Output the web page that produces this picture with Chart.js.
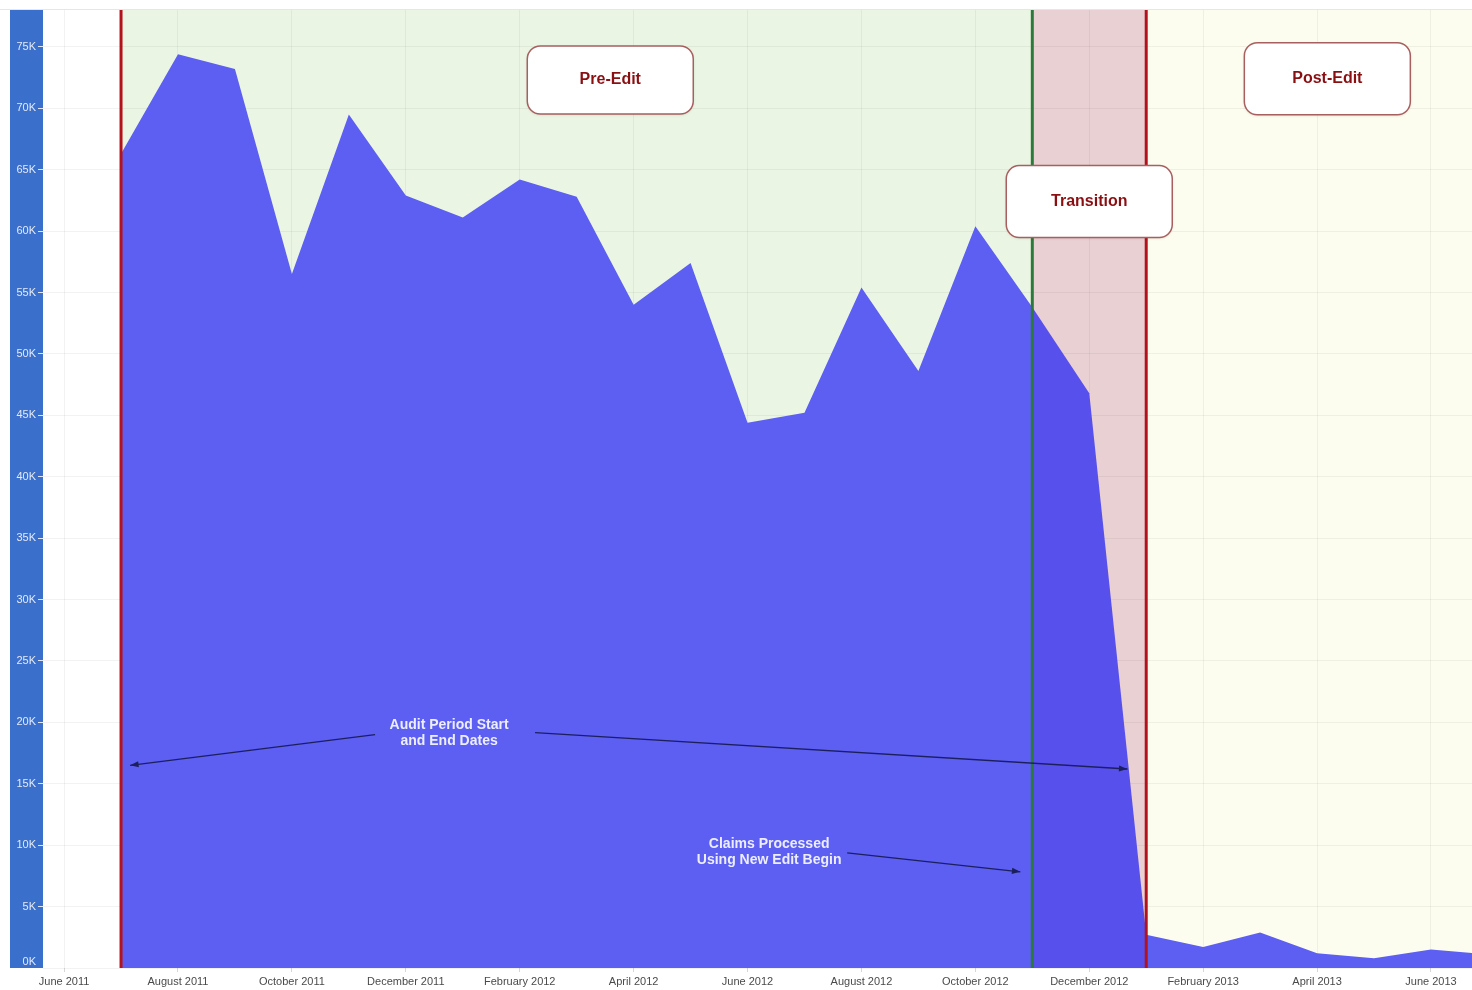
<!DOCTYPE html>
<html lang="en">
  <head>
    <meta charset="UTF-8" />
    <title>Claims Processed - Pre-Edit / Post-Edit</title>
    <style>
      body {
        margin: 0;
        background-color: #fff;
        font-family: "Liberation Sans", Arial, sans-serif;
      }
      .chart-container {
        width: 1472px;
        height: 990px;
      }
    </style>
  </head>
  <body>
    <div class="chart-container">
      <canvas id="claimsChart" width="1472" height="990"></canvas>
    </div>
    <script src="https://cdn.jsdelivr.net/npm/chart.js"></script>
    <script>
      // month index 0 = June 2011
      const monthLabels = [
        "June 2011", "July 2011", "August 2011", "September 2011", "October 2011",
        "November 2011", "December 2011", "January 2012", "February 2012", "March 2012",
        "April 2012", "May 2012", "June 2012", "July 2012", "August 2012",
        "September 2012", "October 2012", "November 2012", "December 2012", "January 2013",
        "February 2013", "March 2013", "April 2013", "May 2013", "June 2013", "July 2013",
      ];

      const claimMonths = [1, 2, 3, 4, 5, 6, 7, 8, 9, 10, 11, 12, 13, 14, 15, 16, 17, 18, 19, 20, 21, 22, 23, 24, 25];
      const claimCounts = [
        66300, 74400, 73200, 56500, 69500, 62900, 61100, 64200, 62800, 54000,
        57400, 44400, 45200, 55400, 48600, 60400, 53800, 46800, 2700, 1700,
        2900, 1200, 800, 1500, 1100,
      ];

      const yTickValues = [0, 5000, 10000, 15000, 20000, 25000, 30000, 35000, 40000, 45000, 50000, 55000, 60000, 65000, 70000, 75000];

      const auditStart = 1; // July 2011
      const editStart = 17; // November 2012
      const auditEnd = 19; // January 2013

      const periodLabels = ["Pre-Edit", "Transition", "Post-Edit"];
      const noteLines = [
        ["Audit Period Start", "and End Dates"],
        ["Claims Processed", "Using New Edit Begin"],
      ];

      const points = claimMonths.map((m, i) => ({ x: m, y: claimCounts[i] }));

      const FONT = '"Liberation Sans", Arial, sans-serif';
      const yLabel = (v) => v / 1000 + "K";

      function roundRect(ctx, x, y, w, h, r) {
        ctx.beginPath();
        ctx.moveTo(x + r, y);
        ctx.arcTo(x + w, y, x + w, y + h, r);
        ctx.arcTo(x + w, y + h, x, y + h, r);
        ctx.arcTo(x, y + h, x, y, r);
        ctx.arcTo(x, y, x + w, y, r);
        ctx.closePath();
      }

      function arrow(ctx, x1, y1, x2, y2) {
        ctx.strokeStyle = "#1c1f5e";
        ctx.fillStyle = "#1c1f5e";
        ctx.lineWidth = 1.4;
        ctx.beginPath();
        ctx.moveTo(x1, y1);
        ctx.lineTo(x2, y2);
        ctx.stroke();
        const a = Math.atan2(y2 - y1, x2 - x1);
        const s = 9;
        ctx.beginPath();
        ctx.moveTo(x2, y2);
        ctx.lineTo(x2 - s * Math.cos(a - 0.35), y2 - s * Math.sin(a - 0.35));
        ctx.lineTo(x2 - s * Math.cos(a + 0.35), y2 - s * Math.sin(a + 0.35));
        ctx.closePath();
        ctx.fill();
      }

      const backdropPlugin = {
        id: "backdrop",
        beforeDraw(chart) {
          const { ctx, chartArea: a, scales } = chart;
          const xs = scales.x;
          ctx.save();
          ctx.fillStyle = "#fff";
          ctx.fillRect(0, 0, chart.width, chart.height);
          // thin top rule
          ctx.strokeStyle = "#e6e6e6";
          ctx.lineWidth = 1;
          ctx.beginPath();
          ctx.moveTo(0, a.top - 0.5);
          ctx.lineTo(chart.width, a.top - 0.5);
          ctx.stroke();
          // y axis panel
          ctx.fillStyle = "#3a6fcb";
          ctx.fillRect(scales.y.left, a.top, scales.y.width, a.bottom - a.top);
          // period bands
          const x1 = xs.getPixelForValue(auditStart);
          const x2 = xs.getPixelForValue(editStart);
          const x3 = xs.getPixelForValue(auditEnd);
          ctx.fillStyle = "#eaf6e3";
          ctx.fillRect(x1, a.top, x2 - x1, a.bottom - a.top);
          ctx.fillStyle = "#e9d1d3";
          ctx.fillRect(x2, a.top, x3 - x2, a.bottom - a.top);
          ctx.fillStyle = "#fdfdef";
          ctx.fillRect(x3, a.top, a.right - x3, a.bottom - a.top);
          ctx.restore();
        },
        afterDraw(chart) {
          // bottom "0K" label sits just above the axis, inside the panel
          const { ctx, chartArea: a } = chart;
          ctx.save();
          ctx.fillStyle = "#e3eaf8";
          ctx.font = "11px " + FONT;
          ctx.textAlign = "right";
          ctx.textBaseline = "bottom";
          ctx.fillText(yLabel(yTickValues[0]), a.left - 7, a.bottom - 1);
          ctx.restore();
        },
      };

      const notesPlugin = {
        id: "notes",
        afterDatasetsDraw(chart) {
          const { ctx, chartArea: a, scales } = chart;
          const px = (m) => scales.x.getPixelForValue(m);
          const py = (v) => scales.y.getPixelForValue(v);
          ctx.save();

          // period boundary lines
          const vline = (m, color) => {
            ctx.strokeStyle = color;
            ctx.lineWidth = 3;
            ctx.beginPath();
            ctx.moveTo(px(m), a.top);
            ctx.lineTo(px(m), a.bottom);
            ctx.stroke();
          };
          vline(auditStart, "#b3121c");
          vline(auditEnd, "#b3121c");
          vline(editStart, "#2b7a3b");

          // period boxes
          const boxes = [
            { cx: 9.59, cy: 72300, h: 68 },
            { cx: 18.0, cy: 62400, h: 72 },
            { cx: 22.18, cy: 72400, h: 72 },
          ];
          boxes.forEach((b, i) => {
            const w = 166;
            const x = px(b.cx) - w / 2;
            const y = py(b.cy) - b.h / 2;
            ctx.shadowColor = "rgba(0,0,0,0.12)";
            ctx.shadowBlur = 3;
            ctx.shadowOffsetY = 1;
            roundRect(ctx, x, y, w, b.h, 13);
            ctx.fillStyle = "#fff";
            ctx.fill();
            ctx.shadowColor = "transparent";
            ctx.strokeStyle = "#a85f5f";
            ctx.lineWidth = 1.5;
            ctx.stroke();
            ctx.fillStyle = "#8a0f12";
            ctx.font = "bold 16px " + FONT;
            ctx.textAlign = "center";
            ctx.textBaseline = "middle";
            ctx.fillText(periodLabels[i], px(b.cx), py(b.cy));
          });

          // notes
          ctx.fillStyle = "#eceeff";
          ctx.font = "bold 14px " + FONT;
          ctx.textAlign = "center";
          ctx.textBaseline = "middle";
          const notePos = [
            { cx: 6.76, cy: 19100 },
            { cx: 12.38, cy: 9460 },
          ];
          notePos.forEach((n, i) => {
            ctx.fillText(noteLines[i][0], px(n.cx), py(n.cy) - 8);
            ctx.fillText(noteLines[i][1], px(n.cx), py(n.cy) + 8);
          });

          arrow(ctx, px(5.46), py(19000), px(1.16), py(16500));
          arrow(ctx, px(8.27), py(19160), px(18.67), py(16200));
          arrow(ctx, px(13.75), py(9370), px(16.79), py(7830));

          ctx.restore();
        },
      };

      const config = {
        type: "line",
        data: {
          datasets: [
            {
              label: "Claims",
              data: points,
              fill: "origin",
              backgroundColor: "#5c5ff1",
              borderWidth: 0,
              pointRadius: 0,
              tension: 0,
              segment: {
                backgroundColor: (c) =>
                  c.p0.parsed.x >= editStart && c.p0.parsed.x < auditEnd ? "#5850ec" : undefined,
              },
            },
          ],
        },
        options: {
          responsive: false,
          animation: false,
          layout: { padding: { left: 10, top: 10, right: 0, bottom: 0 } },
          plugins: { legend: { display: false }, tooltip: { enabled: false } },
          scales: {
            x: {
              type: "linear",
              min: -0.37,
              max: 24.72,
              afterFit: (s) => { s.height = 22; },
              border: { display: false },
              grid: { color: "rgba(0,0,0,0.05)", tickColor: "#d8d8d8", tickLength: 4 },
              ticks: {
                stepSize: 2,
                maxTicksLimit: 40,
                includeBounds: false,
                autoSkip: false,
                maxRotation: 0,
                padding: 3,
                color: "#4a4a4a",
                font: { family: FONT, size: 11 },
                callback: (v) => monthLabels[v] || "",
              },
            },
            y: {
              min: 0,
              max: 78000,
              afterFit: (s) => { s.width = 33; },
              afterBuildTicks: (s) => { s.ticks = yTickValues.map((v) => ({ value: v })); },
              border: { display: false },
              grid: {
                color: "rgba(0,0,0,0.05)",
                tickColor: (c) => (c.tick && c.tick.value === 0 ? "transparent" : "#dfe7f7"),
                tickLength: 5,
              },
              ticks: {
                autoSkip: false,
                padding: 2,
                color: "#e3eaf8",
                font: { family: FONT, size: 11 },
                callback: (v) => (v === 0 ? "" : yLabel(v)),
              },
            },
          },
        },
        plugins: [backdropPlugin, notesPlugin],
      };

      const claimsChart = new Chart(document.getElementById("claimsChart"), config);
    </script>
  </body>
</html>
